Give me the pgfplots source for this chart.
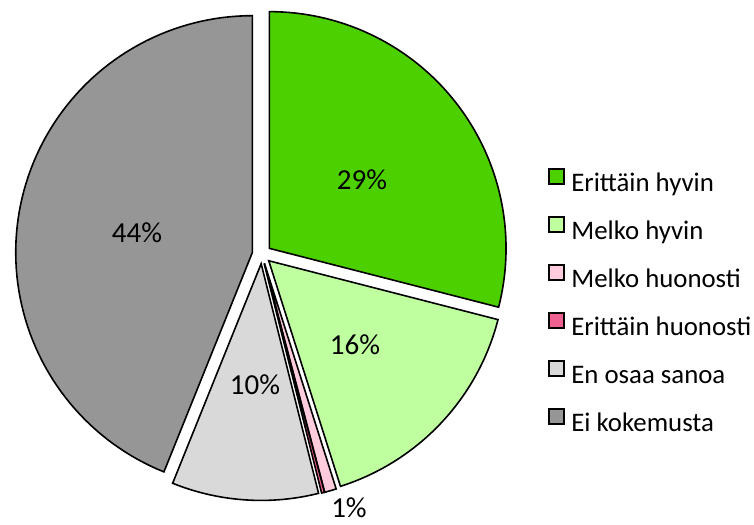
\documentclass[border=0pt]{standalone}
\usepackage{fontspec}
\setmainfont{Carlito}
\usepackage{pgfplots}
\pgfplotsset{compat=1.18}
\definecolor{cA}{RGB}{76,208,0}
\definecolor{cB}{RGB}{192,255,160}
\definecolor{cC}{RGB}{255,204,221}
\definecolor{cD}{RGB}{240,96,144}
\definecolor{cE}{RGB}{217,217,217}
\definecolor{cF}{RGB}{150,150,150}
% centre, radius, explosion (in picture units)
\def\Cx{261.8}\def\Cy{270.8}\def\R{236.7}\def\D{9.55}
% #1 start %, #2 end %, #3 colour, #4 legend text
\newcommand\slice[4]{%
  \pgfmathsetmacro\md{90-1.8*(#1+#2)}%
  \pgfmathsetmacro\ax{\Cx+\D*cos(\md)}%
  \pgfmathsetmacro\ay{\Cy+\D*sin(\md)}%
  \edef\temp{\noexpand\addplot[draw=black, line width=1.6bp, line join=miter, fill=#3, domain=#1:#2, samples=90]
    ({\ax+\R*cos(90-3.6*x)},{\ay+\R*sin(90-3.6*x)}) -- (axis cs:\ax,\ay) -- cycle;
    \noexpand\addlegendentry{#4}}%
  \temp}
\begin{document}
\begin{tikzpicture}
\begin{axis}[
  scale only axis, width=754bp, height=525bp,
  xmin=0, xmax=754, ymin=0, ymax=525,
  hide axis, clip=false,
  legend style={at={(axis cs:548,357)}, anchor=north west, draw=none, fill=none,
    inner sep=0pt, row sep=18.8bp,
    font=\fontsize{26.8bp}{31bp}\selectfont,
    nodes={inner sep=0pt, text height=18bp, text depth=6bp}},
  legend cell align=left,
  /tikz/every odd column/.append style={column sep=6.5bp},
  legend image code/.code={\draw[#1, draw=black, line width=1.7bp] (0bp,1.3bp) rectangle (15bp,16.3bp);},
]
% values (%): 29.0, 16.1, 0.8, 0.2, 10.0, 43.9 (cumulative bounds below)
\slice{0}{29.0}{cA}{Erittäin hyvin}
\slice{29.0}{45.1}{cB}{Melko hyvin}
\slice{45.1}{45.9}{cC}{Melko huonosti}
\slice{45.9}{46.1}{cD}{Erittäin huonosti}
\slice{46.1}{56.1}{cE}{En osaa sanoa}
\slice{56.1}{100}{cF}{Ei kokemusta}
\begin{scope}[every node/.style={font=\fontsize{29bp}{32bp}\selectfont, inner sep=0pt}]
\node at (axis cs:362,345) {29\%};
\node at (axis cs:355,180) {16\%};
\node at (axis cs:255,140) {10\%};
\node at (axis cs:137,292) {44\%};
\node at (axis cs:349,17) {1\%};
\end{scope}
\end{axis}
\pgfresetboundingbox
\useasboundingbox (current axis.south west) rectangle (current axis.north east);
\end{tikzpicture}
\end{document}
